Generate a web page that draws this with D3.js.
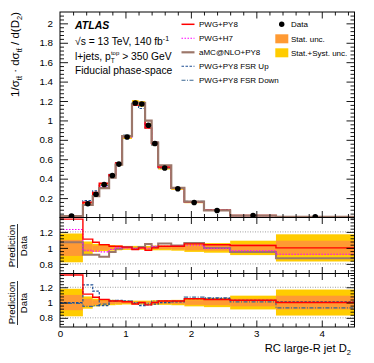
<!DOCTYPE html>
<html><head><meta charset="utf-8">
<script src="https://cdn.jsdelivr.net/npm/d3@7"></script>
<style>body{margin:0;background:#fff} svg{display:block} text{font-family:"Liberation Sans",Arial,Helvetica,sans-serif;fill:#000}</style>
</head><body><svg id="c" width="374" height="363"></svg>
<script>
// ---------- data ----------
const binEdges = [0,0.35,0.5,0.6,0.75,0.85,0.95,1.1,1.2,1.3,1.4,1.5,1.7,1.9,2.2,2.6,3.3,4.5];
const dataVals = [0.014,0.141,0.24,0.34,0.433,0.55,0.83,1.18,1.17,0.95,0.763,0.51,0.296,0.155,0.072,0.02,0.007];
const statUnc  = [0.10,0.05,0.03,0.025,0.02,0.015,0.012,0.012,0.012,0.012,0.015,0.015,0.02,0.03,0.035,0.05,0.09];
const totUnc   = [0.18,0.08,0.05,0.04,0.035,0.03,0.025,0.025,0.025,0.025,0.03,0.03,0.035,0.05,0.06,0.09,0.17];
const rPWGPY8  = [1.36,1.11,1.07,1.04,1.02,1.02,1.01,0.98,1.0,0.97,1.0,1.02,1.02,1.05,1.04,1.03,1.0];
const rPWGH7   = [1.23,0.97,0.96,0.95,0.98,1.0,1.0,0.99,1.0,0.99,1.02,1.02,1.02,1.035,0.995,0.965,0.92];
const rAMC     = [1.07,0.915,0.915,0.89,0.95,0.99,1.01,0.99,1.01,1.05,1.01,1.055,1.03,1.06,1.0,0.95,0.87];
const rFSRUp   = [1.0,1.23,1.15,0.96,1.02,1.03,1.02,0.99,0.96,0.97,0.98,1.0,1.01,1.05,1.055,1.03,1.01];
const rFSRDown = [0.99,0.95,0.96,0.98,1.03,1.02,1.02,1.0,0.98,0.99,1.02,1.02,1.02,1.07,1.06,1.01,0.93];
const xTickLabels = [0,1,2,3,4];
const yMainTickLabels = [0.2,0.4,0.6,0.8,1,1.2,1.4,1.6,1.8,2];
const yRatioTickLabels = [0.8,1,1.2];

// ---------- layout ----------
const svg = d3.select("#c");
const L = 60, R = 354.5;
const mainTop = 12, mainBot = 217.5, r1Bot = 273.5, r2Bot = 327;
const x = d3.scaleLinear([0,4.5],[L,R]);
const yMain = d3.scaleLinear([0,2.117],[mainBot,mainTop]);
const yR1 = d3.scaleLinear([0.68,1.38],[r1Bot,mainBot]);
const yR2 = d3.scaleLinear([0.68,1.38],[r2Bot,r1Bot]);

const C = {
  py8:"#ff0000", h7:"#ff00ff", amc:"#9c776a", up:"#1f4f94", down:"#3b6792",
  stat:"#ff9a33", tot:"#ffcc00"
};

const defs = svg.append("defs");
[["cm",mainTop,mainBot],["c1",mainBot,r1Bot],["c2",r1Bot,r2Bot]].forEach(([id,t,b])=>{
  defs.append("clipPath").attr("id",id).append("rect").attr("x",L).attr("y",t).attr("width",R-L).attr("height",b-t);
});

function stepPts(vals, sy){
  const pts=[];
  vals.forEach((v,i)=>{pts.push([x(binEdges[i]),sy(v)]);pts.push([x(binEdges[i+1]),sy(v)]);});
  return pts;
}
const line = d3.line();

// ---------- main panel ----------
const gm = svg.append("g").attr("clip-path","url(#cm)");
const bins = dataVals.map((d,i)=>({i, x0:binEdges[i], x1:binEdges[i+1], d}));
gm.selectAll("rect.tot").data(bins).join("rect").attr("class","tot")
  .attr("x",b=>x(b.x0)).attr("width",b=>x(b.x1)-x(b.x0))
  .attr("y",b=>yMain(b.d*(1+totUnc[b.i]))).attr("height",b=>yMain(b.d*(1-totUnc[b.i]))-yMain(b.d*(1+totUnc[b.i])))
  .attr("fill",C.tot);
gm.selectAll("rect.stat").data(bins).join("rect").attr("class","stat")
  .attr("x",b=>x(b.x0)).attr("width",b=>x(b.x1)-x(b.x0))
  .attr("y",b=>yMain(b.d*(1+statUnc[b.i]))).attr("height",b=>yMain(b.d*(1-statUnc[b.i]))-yMain(b.d*(1+statUnc[b.i])))
  .attr("fill",C.stat);

const preds = [
  {r:rFSRDown, c:C.down, w:1.1, dash:"4,1.5,1,1.5"},
  {r:rFSRUp, c:C.up, w:1.1, dash:"2.5,1.5"},
  {r:rPWGH7, c:C.h7, w:1.1, dash:"1.5,1.5"},
  {r:rPWGPY8, c:C.py8, w:1.5, dash:null},
  {r:rAMC, c:C.amc, w:2.2, dash:null}
];
preds.forEach(p=>{
  const vals = dataVals.map((d,i)=>d*p.r[i]);
  gm.append("path").attr("d",line(stepPts(vals,yMain))).attr("fill","none")
    .attr("stroke",p.c).attr("stroke-width",p.w).attr("stroke-dasharray",p.dash);
});
gm.selectAll("circle.pt").data(bins).join("circle").attr("class","pt")
  .attr("cx",b=>x((b.x0+b.x1)/2)).attr("cy",b=>yMain(b.d)).attr("r",2.8).attr("fill","#000");

// ---------- ratio panels ----------
function ratioPanel(sy, clip, list){
  const g = svg.append("g").attr("clip-path",`url(#${clip})`);
  [0.8,1.2].forEach(v=>{
    g.append("line").attr("x1",L).attr("x2",R).attr("y1",sy(v)).attr("y2",sy(v))
      .attr("stroke","#888").attr("stroke-width",0.8).attr("stroke-dasharray","1,1.5");
  });
  g.selectAll("rect.tot").data(bins).join("rect").attr("class","tot")
    .attr("x",b=>x(b.x0)).attr("width",b=>x(b.x1)-x(b.x0))
    .attr("y",b=>sy(1+totUnc[b.i])).attr("height",b=>sy(1-totUnc[b.i])-sy(1+totUnc[b.i]))
    .attr("fill",C.tot);
  g.selectAll("rect.stat").data(bins).join("rect").attr("class","stat")
    .attr("x",b=>x(b.x0)).attr("width",b=>x(b.x1)-x(b.x0))
    .attr("y",b=>sy(1+statUnc[b.i])).attr("height",b=>sy(1-statUnc[b.i])-sy(1+statUnc[b.i]))
    .attr("fill",C.stat);
  list.forEach(p=>{
    g.append("path").attr("d",line(stepPts(p.r,sy))).attr("fill","none")
      .attr("stroke",p.c).attr("stroke-width",p.w).attr("stroke-dasharray",p.dash);
  });
}
ratioPanel(yR1,"c1",[
  {r:rAMC, c:C.amc, w:2.0, dash:null},
  {r:rPWGH7, c:C.h7, w:1.1, dash:"1.5,1.5"},
  {r:rPWGPY8, c:C.py8, w:1.4, dash:null}
]);
ratioPanel(yR2,"c2",[
  {r:rFSRDown, c:C.down, w:1.2, dash:"4,1.5,1,1.5"},
  {r:rFSRUp, c:C.up, w:1.2, dash:"2.5,1.5"},
  {r:rPWGPY8, c:C.py8, w:1.4, dash:null}
]);

// ---------- axes ----------
function addAxis(axisFn, scale, vals, size, fmt, tr, pad){
  const a = axisFn(scale).tickValues(vals).tickSize(size).tickPadding(pad==null?6:pad)
    .tickFormat(fmt || (()=>""));
  const g = svg.append("g").attr("transform",tr).call(a);
  g.select(".domain").remove();
  g.selectAll(".tick line").attr("stroke","#000").attr("stroke-width",0.9);
  g.selectAll(".tick text").attr("font-size",9.8).attr("font-family",'"Liberation Sans",Arial,sans-serif').attr("fill","#000");
  return g;
}
const near = (a,b)=>Math.abs(a-b)<1e-6;
const xMinor = d3.range(0,4.501,0.2).filter(v=>!xTickLabels.some(t=>near(t,v)));
const yMainMinor = d3.range(0,2.117,0.04).filter(v=>!yMainTickLabels.some(t=>near(t,v)));
const yRMinor = d3.range(0.72,1.38,0.04).filter(v=>!yRatioTickLabels.some(t=>near(t,v)));
const fmtNum = d=>d3.format("")(d);

// main
addAxis(d3.axisLeft, yMain, yMainTickLabels, -8, fmtNum, `translate(${L},0)`, 7);
addAxis(d3.axisLeft, yMain, yMainMinor, -4, null, `translate(${L},0)`);
addAxis(d3.axisRight, yMain, yMainTickLabels, -8, null, `translate(${R},0)`);
addAxis(d3.axisRight, yMain, yMainMinor, -4, null, `translate(${R},0)`);
[[mainTop,d3.axisTop],[mainBot,d3.axisBottom],[mainBot,d3.axisTop],[r1Bot,d3.axisBottom],[r1Bot,d3.axisTop],[r2Bot,d3.axisBottom]].forEach(([yy,fn])=>{
  addAxis(fn, x, xTickLabels.filter(v=>v>0), -6.5, null, `translate(0,${yy})`);
  addAxis(fn, x, xMinor, -3.5, null, `translate(0,${yy})`);
});
// x tick labels under bottom panel
addAxis(d3.axisBottom, x, xTickLabels, 0, fmtNum, `translate(0,${r2Bot})`, 3.5);
// ratio y axes
[yR1,yR2].forEach(sy=>{
  addAxis(d3.axisLeft, sy, yRatioTickLabels, -8, fmtNum, `translate(${L},0)`, 7);
  addAxis(d3.axisLeft, sy, yRMinor, -4, null, `translate(${L},0)`);
  addAxis(d3.axisRight, sy, yRatioTickLabels, -8, null, `translate(${R},0)`);
  addAxis(d3.axisRight, sy, yRMinor, -4, null, `translate(${R},0)`);
});

// frames
[[mainTop,mainBot],[mainBot,r1Bot],[r1Bot,r2Bot]].forEach(([t,b])=>{
  svg.append("rect").attr("x",L).attr("y",t).attr("width",R-L).attr("height",b-t)
    .attr("fill","none").attr("stroke","#000").attr("stroke-width",1);
});

// ---------- titles ----------
const yt = svg.append("text").attr("transform","translate(19,12) rotate(-90)")
  .attr("text-anchor","end").attr("font-size",11.5);
yt.append("tspan").text("1/σ");
yt.append("tspan").attr("font-size",7.5).attr("dy",3).text("tt\u0304");
yt.append("tspan").attr("dy",-3).text(" · dσ");
yt.append("tspan").attr("font-size",7.5).attr("dy",3).text("tt\u0304");
yt.append("tspan").attr("dy",-3).text(" / d(D");
yt.append("tspan").attr("font-size",7.5).attr("dy",3).text("2");
yt.append("tspan").attr("dy",-3).text(")");

function fracTitle(cy){
  const g = svg.append("g").attr("transform",`translate(0,${cy}) rotate(-90)`);
  g.append("text").attr("x",0).attr("y",15).attr("text-anchor","middle").attr("font-size",9.6).text("Prediction");
  g.append("line").attr("x1",-22).attr("x2",22).attr("y1",17.5).attr("y2",17.5).attr("stroke","#000").attr("stroke-width",0.8);
  g.append("text").attr("x",0).attr("y",26.5).attr("text-anchor","middle").attr("font-size",9.6).text("Data");
}
fracTitle(246);
fracTitle(303);

const xt = svg.append("text").attr("x",351).attr("y",352).attr("text-anchor","end").attr("font-size",11.2);
xt.append("tspan").text("RC large-R jet D");
xt.append("tspan").attr("font-size",7.5).attr("dy",3).text("2");

// ---------- annotation ----------
svg.append("text").attr("x",75).attr("y",29).attr("font-size",10.5).attr("font-weight","bold").attr("font-style","italic").text("ATLAS");
const t2 = svg.append("text").attr("x",75).attr("y",45).attr("font-size",10.3);
t2.append("tspan").text("√s = 13 TeV, 140 fb");
t2.append("tspan").attr("font-size",7).attr("dy",-4).text("-1");
const t3 = svg.append("text").attr("x",75).attr("y",60).attr("font-size",10.3);
t3.append("tspan").text("l+jets, p");
t3.append("tspan").attr("font-size",6.5).attr("dy",2.5).text("T");
t3.append("tspan").attr("font-size",6).attr("dx",-3.8).attr("dy",-8).text("top");
t3.append("tspan").attr("dy",5.5).text(" > 350 GeV");
svg.append("text").attr("x",75).attr("y",74).attr("font-size",10.3).text("Fiducial phase-space");

// legend middle
const legMid = [
  {label:"PWG+PY8", c:C.py8, w:1.5, dash:null},
  {label:"PWG+H7", c:C.h7, w:1.1, dash:"1.5,1.5"},
  {label:"aMC@NLO+PY8", c:C.amc, w:2.2, dash:null},
  {label:"PWG+PY8 FSR Up", c:C.up, w:1.1, dash:"2.5,1.5"},
  {label:"PWG+PY8 FSR Down", c:C.down, w:1.1, dash:"4,1.5,1,1.5"}
];
legMid.forEach((d,i)=>{
  const cy = 24.3 + i*14;
  svg.append("line").attr("x1",181.5).attr("x2",194.5).attr("y1",cy).attr("y2",cy)
    .attr("stroke",d.c).attr("stroke-width",d.w).attr("stroke-dasharray",d.dash);
  svg.append("text").attr("x",199).attr("y",cy+3).attr("font-size",8).text(d.label);
});
// legend right
svg.append("circle").attr("cx",281.7).attr("cy",24.3).attr("r",2.7).attr("fill","#000");
svg.append("text").attr("x",291).attr("y",27.3).attr("font-size",8).text("Data");
svg.append("rect").attr("x",275.3).attr("y",34.3).attr("width",13).attr("height",9).attr("fill",C.stat);
svg.append("text").attr("x",291).attr("y",41.7).attr("font-size",8).text("Stat. unc.");
svg.append("rect").attr("x",275.3).attr("y",48.3).attr("width",13).attr("height",9).attr("fill",C.tot);
svg.append("text").attr("x",291).attr("y",55.7).attr("font-size",8).text("Stat.+Syst. unc.");
</script></body></html>
